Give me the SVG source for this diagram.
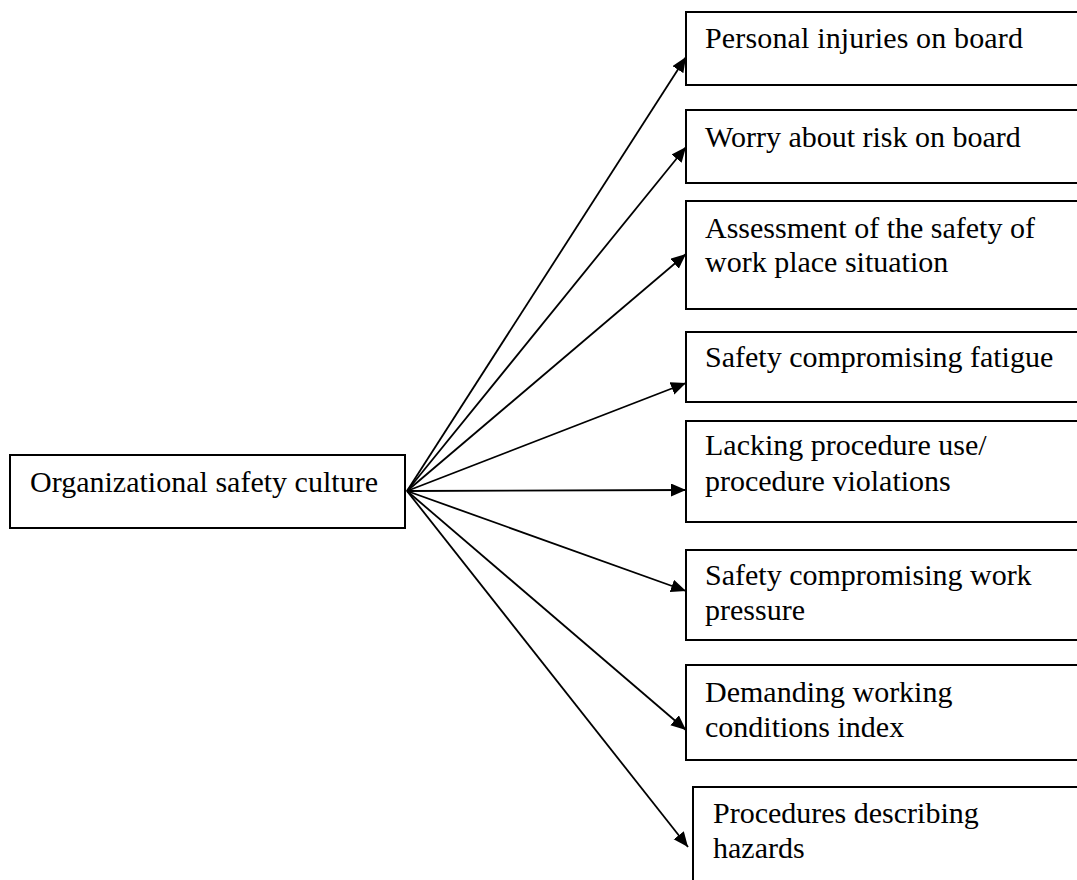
<svg xmlns="http://www.w3.org/2000/svg" width="1077" height="880" viewBox="0 0 1077 880">
<style>
rect{fill:#fff;stroke:#000;stroke-width:2}
text{font-family:"Liberation Serif","Times New Roman",serif;font-size:30px;fill:#000}
.c line{stroke:#000;stroke-width:1.8;marker-end:url(#ah)}
</style>
<defs>
<marker id="ah" markerUnits="userSpaceOnUse" markerWidth="16" markerHeight="14" refX="15" refY="6.5" orient="auto">
<path d="M0,0 L15,6.5 L0,13 z" fill="#000"/>
</marker>
</defs>
<rect width="1077" height="880" style="fill:#fff;stroke:none"/>
<g id="n0"><rect x="10" y="455" width="395" height="73"/><text x="30" y="492" textLength="348">Organizational safety culture</text></g>
<g id="n1"><rect x="686" y="12" width="400" height="73"/><text x="705" y="48" textLength="318">Personal injuries on board</text></g>
<g id="n2"><rect x="686" y="110" width="400" height="73"/><text x="705" y="147">Worry about risk on board</text></g>
<g id="n3"><rect x="686" y="201" width="400" height="108"/><text x="705" y="238">Assessment of the safety of</text><text x="705" y="272">work place situation</text></g>
<g id="n4"><rect x="686" y="332" width="400" height="70"/><text x="705" y="367">Safety compromising fatigue</text></g>
<g id="n5"><rect x="686" y="421" width="400" height="101"/><text x="705" y="455">Lacking procedure use/</text><text x="705" y="491">procedure violations</text></g>
<g id="n6"><rect x="686" y="550" width="400" height="90"/><text x="705" y="585">Safety compromising work</text><text x="705" y="620">pressure</text></g>
<g id="n7"><rect x="686" y="665" width="400" height="95"/><text x="705" y="702">Demanding working</text><text x="705" y="737">conditions index</text></g>
<g id="n8"><rect x="693" y="787" width="400" height="120"/><text x="713" y="823">Procedures describing</text><text x="713" y="858">hazards</text></g>
<g class="c" id="connectors">
<line x1="407" y1="491" x2="686" y2="57"/>
<line x1="407" y1="491" x2="686" y2="147"/>
<line x1="407" y1="491" x2="686" y2="254"/>
<line x1="407" y1="491" x2="686" y2="383"/>
<line x1="407" y1="491" x2="686" y2="490"/>
<line x1="407" y1="491" x2="686" y2="591"/>
<line x1="407" y1="491" x2="686" y2="730"/>
<line x1="407" y1="491" x2="688" y2="847"/>
</g>
</svg>
